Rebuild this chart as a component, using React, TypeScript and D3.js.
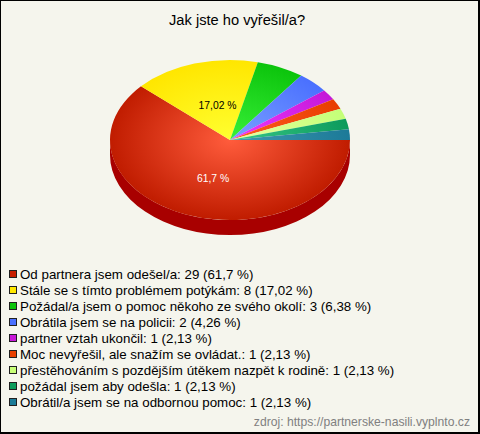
import React from 'react';
import * as d3 from 'd3';

const categories = [
  'Od partnera jsem odešel/a',
  'Stále se s tímto problémem potýkám',
  'Požádal/a jsem o pomoc někoho ze svého okolí',
  'Obrátila jsem se na policii',
  'partner vztah ukončil',
  'Moc nevyřešil, ale snažím se ovládat.',
  'přestěhováním s pozdějším útěkem nazpět k rodině',
  'požádal jsem aby odešla',
  'Obrátil/a jsem se na odbornou pomoc',
];
const counts = [29, 8, 3, 2, 1, 1, 1, 1, 1];
const percents = ['61,7', '17,02', '6,38', '4,26', '2,13', '2,13', '2,13', '2,13', '2,13'];
const edgeColors = ['#c01c00', '#ffe600', '#0cc40c', '#4a70ff', '#c418d8', '#e83e00', '#c4ff78', '#0c9a5c', '#1c7a98'];
const innerColors = ['#ff5c3c', '#ffff30', '#38f038', '#7aa0ff', '#f038ff', '#ff5c20', '#e8ffa0', '#38c888', '#4098b0'];
const legendColors = ['#c81e00', '#ffe800', '#0cc40c', '#4a70ff', '#c818d8', '#e84000', '#c8ff78', '#0c9c5c', '#1c7c98'];
const sliceLabels = [
  { index: 0, dx: -17, dy: 38, fill: '#ffffff' },
  { index: 1, dx: -12.5, dy: -35, fill: '#000000' },
];

const width = 480;
const height = 434;
const cx = 230;
const cy = 140;
const rx = 120;
const ry = 80;
const depth = 15;
const legendY = d3.scaleLinear().domain([0, 8]).range([274, 402]);

const pie = d3
  .pie<number>()
  .sort(null)
  .startAngle(Math.PI / 2)
  .endAngle(Math.PI / 2 + 2 * Math.PI);
const arcs = pie(counts);
const arc = d3.arc<d3.PieArcDatum<number>>().innerRadius(0).outerRadius(rx);

const font = '"Liberation Sans", Arial, sans-serif';

// Front wall of the pie: bottom half of the ellipse, extruded downward.
const sidePath = () => {
  const left = cx - rx;
  const right = cx + rx;
  return `M${right},${cy}A${rx},${ry} 0 0 1 ${left},${cy}L${left},${cy + depth}A${rx},${ry} 0 0 0 ${right},${cy + depth}Z`;
};

export default function App() {
  return (
    <svg
      width={width}
      height={height}
      viewBox={`0 0 ${width} ${height}`}
      style={{ position: 'absolute', left: 0, top: 0, display: 'block' }}
      fontFamily={font}
    >
      <defs>
        {arcs.map((_, i) => (
          <radialGradient key={i} id={`g${i}`} gradientUnits="userSpaceOnUse" cx={0} cy={0} r={rx}>
            <stop offset="0%" stopColor={innerColors[i]} />
            <stop offset="100%" stopColor={edgeColors[i]} />
          </radialGradient>
        ))}
      </defs>
      <rect x={0} y={0} width={width} height={height} fill="#000000" />
      <rect x={1} y={1} width={width - 3} height={height - 3} fill="#f5f5ed" />
      <text x={169} y={25} fontSize={14.67} fill="#000000">
        Jak jste ho vyřešil/a?
      </text>
      <path d={sidePath()} fill="#a80000" />
      <g transform={`translate(${cx},${cy}) scale(1,${ry / rx})`}>
        {arcs.map((d, i) => (
          <path key={i} d={arc(d) ?? ''} fill={`url(#g${i})`} />
        ))}
      </g>
      {sliceLabels.map((l) => (
        <text
          key={l.index}
          x={cx + l.dx}
          y={cy + l.dy}
          textAnchor="middle"
          dominantBaseline="central"
          fontSize={10.35}
          fill={l.fill}
        >
          {percents[l.index]} %
        </text>
      ))}
      {categories.map((c, i) => (
        <g key={c}>
          <rect
            x={9.5}
            y={legendY(i) - 3.5}
            width={7}
            height={7}
            fill={legendColors[i]}
            stroke="#202020"
            strokeWidth={1}
          />
          <text x={20} y={legendY(i) + 5} fontSize={13.33} fill="#000000">
            {c}: {counts[i]} ({percents[i]} %)
          </text>
        </g>
      ))}
      <text x={470} y={426} textAnchor="end" fontSize={12.17} fill="#808080">
        zdroj: https://partnerske-nasili.vyplnto.cz
      </text>
    </svg>
  );
}
